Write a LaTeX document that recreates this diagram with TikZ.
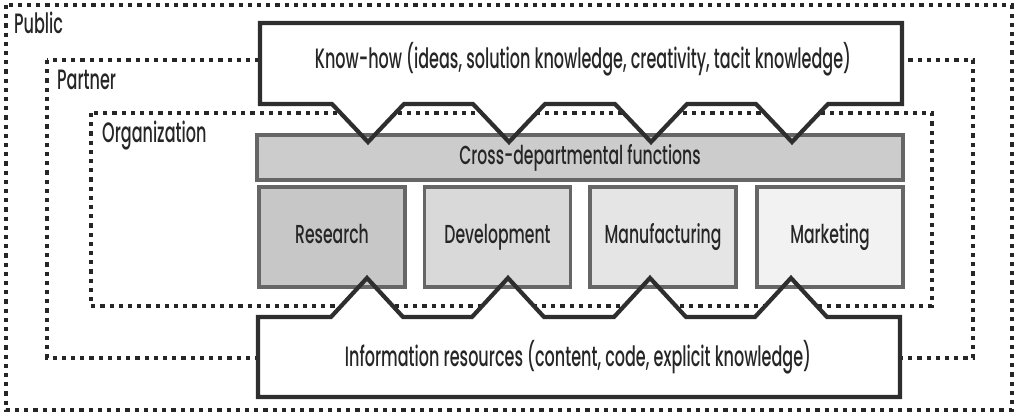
\documentclass[tikz,border=0pt]{standalone}
\usepackage{fontspec}
\setmainfont[FakeStretch=0.6]{Poppins Medium}
\newfontfamily\mainf[FakeStretch=0.572]{Poppins Medium}
\newfontfamily\deptf[FakeStretch=0.602]{Poppins Medium}
\begin{document}
\begin{tikzpicture}[x=1pt,y=-1pt,
  dotline/.style={draw=black!85, line width=4.2pt, dash pattern=on 4.2pt off 5pt},
  bigbox/.style={draw=black!82, line width=4.2pt, line join=miter},
  gbox/.style={draw=black!60, line width=3.2pt, minimum height=100pt, minimum width=146pt, inner sep=0pt},
  gtxt/.style={anchor=base, inner sep=0pt, text=black!85, font=\deptf\fontsize{26}{30}\selectfont},
  lbl/.style={anchor=base west, inner sep=0pt, text=black!85, font=\mainf\fontsize{28}{32}\selectfont},
  txt/.style={anchor=base, inner sep=0pt, text=black!85, font=\mainf\fontsize{28}{32}\selectfont}]
\useasboundingbox (0,0) rectangle (1018,415);
% dotted zones
\draw[dotline] (6,5) rectangle (1012,410);
\draw[dotline] (47,60) rectangle (973,358);
\draw[dotline] (91,113) rectangle (932,306);
\node[lbl] (public) at (14,34) {Public};
\node[lbl] (partner) at (57,89) {Partner};
\node[lbl] (org) at (102,142) {Organization};
% box outlines (fills first)
\def\toppath{(260,23) -- (902,23) -- (902,104) -- (828,104) -- (792,142) -- (756,104)
  -- (687,104) -- (651,142) -- (615,104) -- (545,104) -- (509,142) -- (473,104)
  -- (404,104) -- (368,142) -- (332,104) -- (260,104) -- cycle}
\def\botpath{(258,397) -- (900,397) -- (900,317) -- (827,317) -- (791,278) -- (755,317)
  -- (686,317) -- (650,278) -- (614,317) -- (544,317) -- (508,278) -- (472,317)
  -- (403,317) -- (367,278) -- (331,317) -- (258,317) -- cycle}
\fill[white] \toppath;
\fill[white] \botpath;
% cross-departmental
\node[gbox, fill=black!20, minimum width=646pt, minimum height=45pt] (cross) at (580,157.5) {};
\node[gtxt] (crosst) at (580,164) {Cross-departmental functions};
% departments
\node[gbox, fill=black!22] (research) at (332,237) {};
\node[gbox, fill=black!15] (dev) at (497.5,237) {};
\node[gbox, fill=black!10] (manu) at (663,237) {};
\node[gbox, fill=black!5] (market) at (830,237) {};
\node[gtxt] (researcht) at (research.center |- 0,243) {Research};
\node[gtxt] (devt) at (dev.center |- 0,243) {Development};
\node[gtxt] (manut) at (manu.center |- 0,243) {Manufacturing};
\node[gtxt] (markett) at (market.center |- 0,243) {Marketing};
% top know-how box and bottom information box
\draw[bigbox] \toppath;
\draw[bigbox] \botpath;
\node[txt] (know) at (583,68) {Know-how (ideas, solution knowledge, creativity, tacit knowledge)};
\node[txt] (info) at (578,366) {Information resources (content, code, explicit knowledge)};
\end{tikzpicture}
\end{document}
